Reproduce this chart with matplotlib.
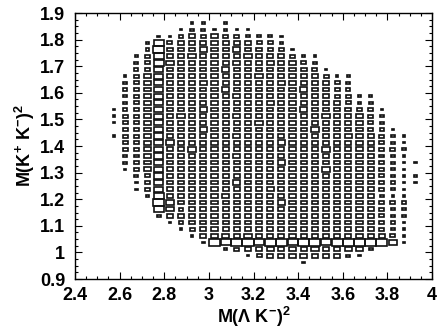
import numpy as np
import matplotlib
matplotlib.use('Agg')
import matplotlib.pyplot as plt
from matplotlib.patches import Rectangle
from matplotlib.ticker import MultipleLocator, FuncFormatter

plt.rcParams['font.family'] = 'Liberation Sans'
plt.rcParams['font.weight'] = 'bold'
plt.rcParams['mathtext.fontset'] = 'custom'
plt.rcParams['mathtext.rm'] = 'Liberation Sans:bold'
plt.rcParams['mathtext.bf'] = 'Liberation Sans:bold'
plt.rcParams['mathtext.default'] = 'bf'

# binning of the Dalitz plot
mlk2_edges = np.linspace(2.55, 3.95, 29)      # M(Lambda K-)^2, 28 bins
mkk2_edges = np.linspace(1.875, 0.95, 38)     # M(K+ K-)^2, 37 bins, top row first

# bin contents (0-9), one string per row, top row first
counts_rows = [
    "0000000220200000000000000000",
    "0000002332322000000000000000",
    "0000224545443332000000000000",
    "0002845556555443000000000000",
    "0003955565565544200000000000",
    "0024855655556555422000000000",
    "0034865556565565543000000000",
    "0034755555655555554200000000",
    "0245755555555655555422000000",
    "0345755565555556555543000000",
    "0345755555655555565543000000",
    "0345755555565555555544220000",
    "0345755555555565555554330000",
    "2345755565555555565555442000",
    "2445756555565555555655543000",
    "2445755555555655555555543000",
    "0445755565555555556555543200",
    "2445755555565555555556554320",
    "0445765555555556555555554320",
    "0445755655555555555655554430",
    "0345755555565555555555554320",
    "0345755555555556555555554322",
    "0245755555555555555655554320",
    "0034755556555555555555554322",
    "0024755555565555555555554322",
    "0024755555555565555555554320",
    "0002855555655555555555553220",
    "0000965555555556555555554430",
    "0000864555555555555555554330",
    "0000355555555555555555554330",
    "0000024555555555555555554320",
    "0000002455555555555555554320",
    "0000000256656555555555555420",
    "0000000029899899899899999620",
    "0000000000245565656556530000",
    "0000000000002455565553200000",
    "0000000000000000020000000000",
]
max_count = 9

fig = plt.figure(figsize=(4.37, 3.31), dpi=100)
ax = fig.add_axes([0.1716, 0.157, 0.817, 0.8037])

bw = mlk2_edges[1] - mlk2_edges[0]
bh = mkk2_edges[0] - mkk2_edges[1]
for i, row in enumerate(counts_rows):
    yc = 0.5 * (mkk2_edges[i] + mkk2_edges[i + 1])
    for j, ch in enumerate(row):
        c = int(ch)
        if c == 0:
            continue
        xc = 0.5 * (mlk2_edges[j] + mlk2_edges[j + 1])
        f = c / max_count
        w, h = bw * f, bh * f
        ax.add_patch(Rectangle((xc - w / 2, yc - h / 2), w, h, fill=False,
                               edgecolor='#111111', linewidth=1.2))

ax.set_xlim(2.4, 4.0)
ax.set_ylim(0.9, 1.9)

ax.xaxis.set_major_locator(MultipleLocator(0.2))
ax.xaxis.set_minor_locator(MultipleLocator(0.05))
ax.yaxis.set_major_locator(MultipleLocator(0.1))
ax.yaxis.set_minor_locator(MultipleLocator(0.025))
fmt = FuncFormatter(lambda v, p: f'{round(v, 2):g}')
ax.xaxis.set_major_formatter(fmt)
ax.yaxis.set_major_formatter(fmt)

ax.tick_params(which='both', direction='in', top=True, right=True, width=0.8)
ax.tick_params(which='major', length=5, labelsize=13)
ax.tick_params(axis='x', which='major', pad=6)
ax.tick_params(axis='y', which='major', pad=7)
ax.tick_params(which='minor', length=2.5)
for s in ax.spines.values():
    s.set_linewidth(1.0)

ax.set_xlabel(r'M($\Lambda$ K$^{-}$)$^{2}$', fontsize=13, fontweight='bold', labelpad=0.5)
ax.set_ylabel(r'M(K$^{+}$ K$^{-}$)$^{2}$', fontsize=13, fontweight='bold', labelpad=2)

fig.savefig('out.png', dpi=100)
